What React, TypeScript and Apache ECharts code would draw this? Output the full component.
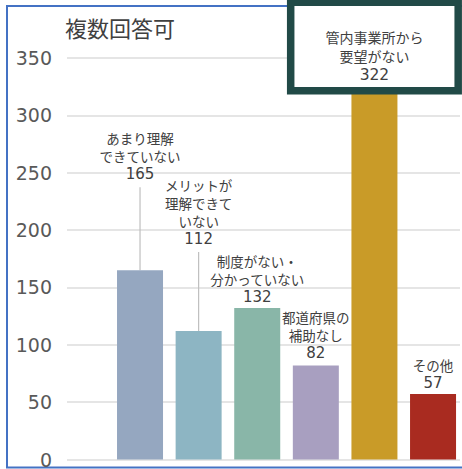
import React, { useEffect, useRef } from "react";
import * as echarts from "echarts";

const categories = [
  "あまり理解\nできていない",
  "メリットが\n理解できて\nいない",
  "制度がない・\n分かっていない",
  "都道府県の\n補助なし",
  "管内事業所から\n要望がない",
  "その他",
];
const values = [165, 112, 132, 82, 322, 57];
const barColors = ["#95a7c0", "#8db5c3", "#89b6a8", "#a89fc0", "#c99b28", "#a92b20"];
const labelLift = [85, 81, 0, 1, 0, 0];
const highlightIndex = 4;
const yTicks = { min: 0, max: 350, interval: 50 };
const title = "複数回答可";

export default function App() {
  const ref = useRef<HTMLDivElement>(null);
  useEffect(() => {
    if (!ref.current) return;
    const chart = echarts.init(ref.current, null, { renderer: "svg" });
    const labelDistance = 2;
    const labelRich = {
      c: { fontSize: 13.5, lineHeight: 18, color: "#404040", fontFamily: "Noto Sans CJK JP" },
      v: { fontSize: 15, lineHeight: 18, color: "#404040", fontFamily: "DejaVu Sans" },
      hc: { fontSize: 14, lineHeight: 19, color: "#404040", fontFamily: "Noto Sans CJK JP" },
      hv: { fontSize: 15.5, lineHeight: 19, color: "#404040", fontFamily: "DejaVu Sans" },
    };
    const barData = values.map((v, i) => {
      const item: any = {
        value: [i, v],
        itemStyle: { color: barColors[i] },
        label: { offset: [0, -labelLift[i]] },
      };
      if (i === highlightIndex) {
        item.label = {
          offset: [0, 0],
          distance: 3,
          backgroundColor: "#ffffff",
          borderColor: "#214a47",
          borderWidth: 7.5,
          padding: [21, 31, 3, 31],
          formatter: (p: any) =>
            categories[p.dataIndex]
              .split("\n")
              .map((s) => `{hc|${s}}`)
              .join("\n") + `\n{hv|${values[p.dataIndex]}}`,
        };
      }
      return item;
    });
    const leaderData = values
      .map((v, i) => [i, v, labelLift[i]])
      .filter((d) => d[2] > 20);

    chart.setOption({
      animation: false,
      title: {
        text: title,
        left: 60,
        top: 11,
        padding: 5,
        textStyle: {
          fontSize: 22,
          fontWeight: "normal",
          color: "#404040",
          fontFamily: "Noto Sans CJK JP",
        },
      },
      graphic: [
        {
          type: "rect",
          shape: { x: 7, y: 6, width: 470, height: 461.5 },
          style: { fill: "none", stroke: "#4472c4", lineWidth: 2 },
          z: -1,
        },
      ],
      grid: { left: 67, right: 2, top: 58, bottom: 5 },
      xAxis: {
        type: "value",
        min: -1.246,
        max: 5.46,
        show: false,
      },
      yAxis: {
        type: "value",
        min: yTicks.min,
        max: yTicks.max,
        interval: yTicks.interval,
        axisLine: { show: false },
        axisTick: { show: false },
        axisLabel: {
          margin: 15,
          fontSize: 19,
          color: "#595959",
          fontFamily: "DejaVu Sans",
        },
        splitLine: { lineStyle: { color: "#dcdcdc", width: 1.5 } },
      },
      series: [
        {
          type: "bar",
          barWidth: 46,
          data: barData,
          label: {
            show: true,
            position: "top",
            distance: labelDistance,
            align: "center",
            formatter: (p: any) =>
              categories[p.dataIndex]
                .split("\n")
                .map((s) => `{c|${s}}`)
                .join("\n") + `\n{v|${values[p.dataIndex]}}`,
            rich: labelRich,
          },
          z: 2,
        },
        {
          type: "custom",
          data: leaderData,
          renderItem: (params: any, api: any) => {
            const top = api.coord([api.value(0), api.value(1)]);
            const lift = api.value(2);
            return {
              type: "line",
              shape: {
                x1: top[0],
                y1: top[1] - labelDistance - lift + 4,
                x2: top[0],
                y2: top[1],
              },
              style: { stroke: "#bfbfbf", lineWidth: 1.2 },
            };
          },
          z: 1,
        },
      ],
    });
    return () => chart.dispose();
  }, []);
  return (
    <div
      ref={ref}
      style={{ position: "absolute", left: 0, top: 0, width: 462, height: 469 }}
    />
  );
}
